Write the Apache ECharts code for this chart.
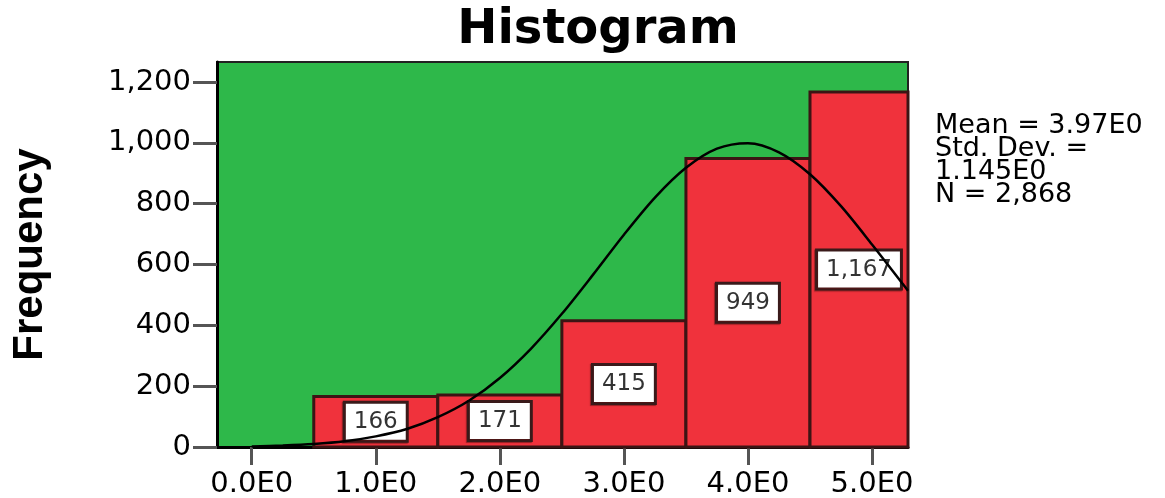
<!DOCTYPE html>
<html>
<head>
<meta charset="utf-8">
<script src="https://cdn.jsdelivr.net/npm/echarts@6/dist/echarts.min.js"></script>
<style>
  html, body { margin: 0; padding: 0; background: #fff; }
  #histogram { width: 1165px; height: 498px; }
</style>
</head>
<body>
<div id="histogram"></div>
<script>
// bins of the histogram (x from/to) and their counts
const binStart = [0.5, 1.5, 2.5, 3.5, 4.5]
const binEnd = [1.5, 2.5, 3.5, 4.5, 5.5]
const counts = [166, 171, 415, 949, 1167]

// normal curve
const curveX = [0, 0.25, 0.5, 0.75, 1, 1.25, 1.5, 1.75, 2, 2.25, 2.5, 2.75, 3, 3.25, 3.5, 3.75, 4, 4.25, 4.5, 4.75, 5, 5.25, 5.29]
const curveY = [2, 5, 10, 19, 35, 59, 98, 152, 227, 323, 438, 566, 698, 820, 918, 981, 999, 969, 897, 792, 666, 535, 514]

const xTicks = [0, 1, 2, 3, 4, 5]
const xTickLabels = ['0.0E0', '1.0E0', '2.0E0', '3.0E0', '4.0E0', '5.0E0']
const yTicks = [0, 200, 400, 600, 800, 1000, 1200]

const statLines = ['Mean = 3.97E0', 'Std. Dev. =', '1.145E0', 'N = 2,868']

const fmt = (v) => String(v).replace(/\B(?=(\d{3})+(?!\d))/g, ',')

const chart = echarts.init(document.getElementById('histogram'))

chart.setOption({
  animation: false,
  title: {
    text: 'Histogram',
    left: 593,
    textAlign: 'center',
    top: 2,
    textStyle: { fontFamily: 'DejaVu Sans', fontWeight: 'bold', fontSize: 48, color: '#000' }
  },
  grid: {
    left: 217, top: 62, right: 257, bottom: 51,
    outerBoundsMode: 'none',
    containLabel: false,
    show: true,
    backgroundColor: '#2eb84a',
    borderColor: '#222',
    borderWidth: 2
  },
  xAxis: {
    type: 'value',
    min: -0.28,
    max: 5.29,
    splitLine: { show: false },
    axisLine: { onZero: false, lineStyle: { color: '#000', width: 3 } },
    axisTick: { customValues: xTicks, length: 18, lineStyle: { color: '#555', width: 3 } },
    axisLabel: {
      customValues: xTicks,
      formatter: (v) => xTickLabels[xTicks.indexOf(Math.round(v))],
      margin: 23,
      fontFamily: 'DejaVu Sans',
      fontSize: 29,
      color: '#000'
    }
  },
  yAxis: {
    type: 'value',
    min: 0,
    max: 1266,
    name: 'Frequency',
    nameLocation: 'middle',
    nameGap: 166,
    nameTextStyle: { fontFamily: 'Liberation Sans', fontWeight: 'bold', fontSize: 42, color: '#000' },
    splitLine: { show: false },
    axisLine: { show: true, onZero: false, lineStyle: { color: '#000', width: 3 } },
    axisTick: { show: true, customValues: yTicks, length: 24, lineStyle: { color: '#555', width: 3 } },
    axisLabel: {
      customValues: yTicks,
      formatter: (v) => fmt(v),
      margin: 26,
      fontFamily: 'DejaVu Sans',
      fontSize: 29,
      color: '#000'
    }
  },
  graphic: [
    {
      type: 'text',
      left: 935,
      top: 112,
      style: {
        text: statLines.join('\n'),
        font: '27px DejaVu Sans',
        lineHeight: 23,
        fill: '#000'
      }
    }
  ],
  series: [
    {
      type: 'custom',
      data: counts.map((c, i) => [binStart[i], binEnd[i], c]),
      encode: { x: [0, 1], y: 2 },
      renderItem: function (params, api) {
        const x0 = api.value(0)
        const x1 = api.value(1)
        const n = api.value(2)
        const p0 = api.coord([x0, 0])
        const p1 = api.coord([x1, n])
        const cs = params.coordSys
        const left = Math.max(p0[0], cs.x)
        const right = Math.min(p1[0], cs.x + cs.width)
        const top = p1[1]
        const bottom = p0[1]
        return {
          type: 'group',
          children: [
            {
              type: 'rect',
              shape: { x: left, y: top, width: right - left, height: bottom - top },
              style: { fill: '#f0323c', stroke: '#3c1414', lineWidth: 3 }
            },
            {
              type: 'text',
              x: (left + right) / 2,
              y: (top + bottom) / 2,
              z2: 5,
              style: {
                text: fmt(n),
                font: '23px DejaVu Sans',
                fill: '#333',
                align: 'center',
                verticalAlign: 'middle',
                textAlign: 'center',
                textVerticalAlign: 'middle',
                backgroundColor: '#fff',
                borderColor: '#3a1a1a',
                borderWidth: 3,
                padding: [7, 8, 6, 8],
                shadowColor: 'rgba(90,20,20,0.6)',
                shadowOffsetX: -1,
                shadowOffsetY: 1,
                shadowBlur: 1
              }
            }
          ]
        }
      }
    },
    {
      type: 'line',
      data: curveX.map((x, i) => [x, curveY[i]]),
      smooth: 0.3,
      symbol: 'none',
      z: 5,
      lineStyle: { color: '#000', width: 2.5 }
    }
  ]
})
</script>
</body>
</html>
